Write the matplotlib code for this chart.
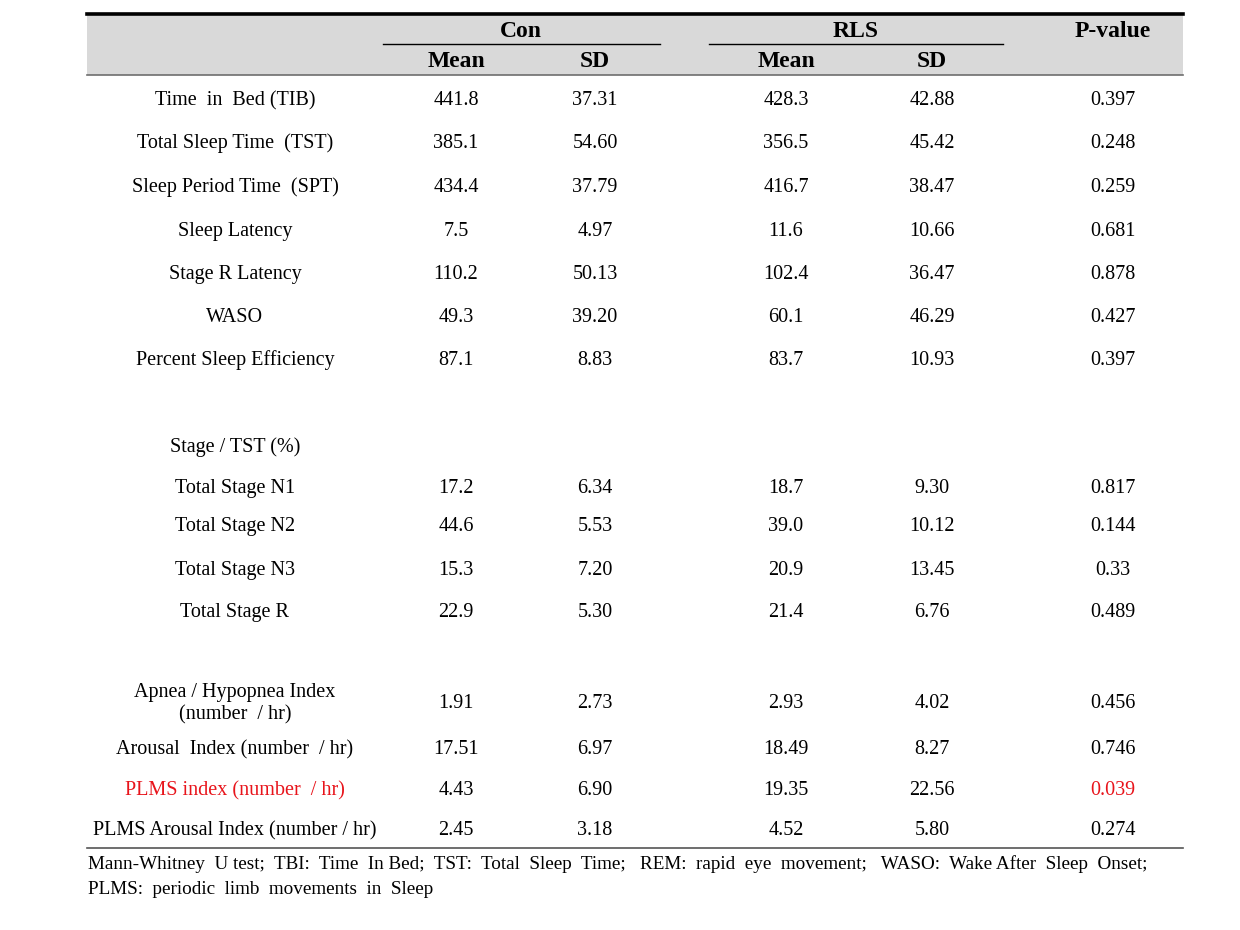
import matplotlib
matplotlib.use("Agg")
import matplotlib.pyplot as plt
from matplotlib.patches import Rectangle
from matplotlib.lines import Line2D

# ---- data ----
groups = ["Con", "RLS"]
subheaders = ["Mean", "SD"]
pval_header = "P-value"

row_labels = ["Time  in  Bed (TIB)", "Total Sleep Time  (TST)", "Sleep Period Time  (SPT)",
              "Sleep Latency", "Stage R Latency", "WASO", "Percent Sleep Efficiency",
              "Stage / TST (%)",
              "Total Stage N1", "Total Stage N2", "Total Stage N3", "Total Stage R",
              "Apnea / Hypopnea Index\n(number  / hr)", "Arousal  Index (number  / hr)",
              "PLMS index (number  / hr)", "PLMS Arousal Index (number / hr)"]
con_mean = ["441.8", "385.1", "434.4", "7.5", "110.2", "49.3", "87.1", "",
            "17.2", "44.6", "15.3", "22.9", "1.91", "17.51", "4.43", "2.45"]
con_sd = ["37.31", "54.60", "37.79", "4.97", "50.13", "39.20", "8.83", "",
          "6.34", "5.53", "7.20", "5.30", "2.73", "6.97", "6.90", "3.18"]
rls_mean = ["428.3", "356.5", "416.7", "11.6", "102.4", "60.1", "83.7", "",
            "18.7", "39.0", "20.9", "21.4", "2.93", "18.49", "19.35", "4.52"]
rls_sd = ["42.88", "45.42", "38.47", "10.66", "36.47", "46.29", "10.93", "",
          "9.30", "10.12", "13.45", "6.76", "4.02", "8.27", "22.56", "5.80"]
p_values = ["0.397", "0.248", "0.259", "0.681", "0.878", "0.427", "0.397", "",
            "0.817", "0.144", "0.33", "0.489", "0.456", "0.746", "0.039", "0.274"]
highlight_rows = ["PLMS index (number  / hr)"]
footnote = ["Mann-Whitney  U test;  TBI:  Time  In Bed;  TST:  Total  Sleep  Time;   REM:  rapid  eye  movement;   WASO:  Wake After  Sleep  Onset;",
            "PLMS:  periodic  limb  movements  in  Sleep"]

# ---- layout (pixels) ----
W, H = 1240, 930
fig = plt.figure(figsize=(12.4, 9.3), dpi=100)
fig.patch.set_facecolor("white")
FONT = "Liberation Serif"
DY = 2.5

def fx(x): return x / W
def fy(y): return 1 - y / H

def txt(x, y, s, size=14.5, weight="normal", color="black", ha="center"):
    fig.text(fx(x), fy(y + DY), s, ha=ha, va="center", fontsize=size, family=FONT,
             weight=weight, color=color, linespacing=1.25)

left, right = 87, 1183
fig.add_artist(Rectangle((fx(left), fy(75)), fx(right - left), (75 - 14) / H,
                         transform=fig.transFigure, facecolor="#d9d9d9", edgecolor="none"))
fig.add_artist(Line2D([fx(left), fx(right)], [fy(14), fy(14)], color="black", lw=2.6))
fig.add_artist(Line2D([fx(left), fx(right)], [fy(75), fy(75)], color="#6e6e6e", lw=1.2))
fig.add_artist(Line2D([fx(383), fx(660)], [fy(44), fy(44)], color="black", lw=1.0))
fig.add_artist(Line2D([fx(709), fx(1003)], [fy(44), fy(44)], color="black", lw=1.0))
fig.add_artist(Line2D([fx(left), fx(right)], [fy(848), fy(848)], color="#555555", lw=1.2))

hsize = 17
txt(521, 29, groups[0], size=hsize, weight="bold")
txt(856, 29, groups[1], size=hsize, weight="bold")
txt(1113, 29, pval_header, size=hsize, weight="bold")
col_x = [456, 595, 786, 932, 1113]
for x, s in zip(col_x[:4], subheaders * 2):
    txt(x, 59, s, size=hsize, weight="bold")

row_y = [98, 141, 185, 229, 272, 315, 358, 445, 486, 524, 568, 610, 701, 747, 788, 828]
for i, lab in enumerate(row_labels):
    y = row_y[i]
    color = "#e8141b" if lab in highlight_rows else "black"
    txt(235, y, lab, color=color)
    vals = [con_mean[i], con_sd[i], rls_mean[i], rls_sd[i], p_values[i]]
    for j, (x, v) in enumerate(zip(col_x, vals)):
        c = color if j == 4 else "black"
        txt(x, y, v, color=c)

txt(88, 862, footnote[0], size=13.8, ha="left")
txt(88, 887, footnote[1], size=13.8, ha="left")

fig.savefig("out.png", dpi=100)
